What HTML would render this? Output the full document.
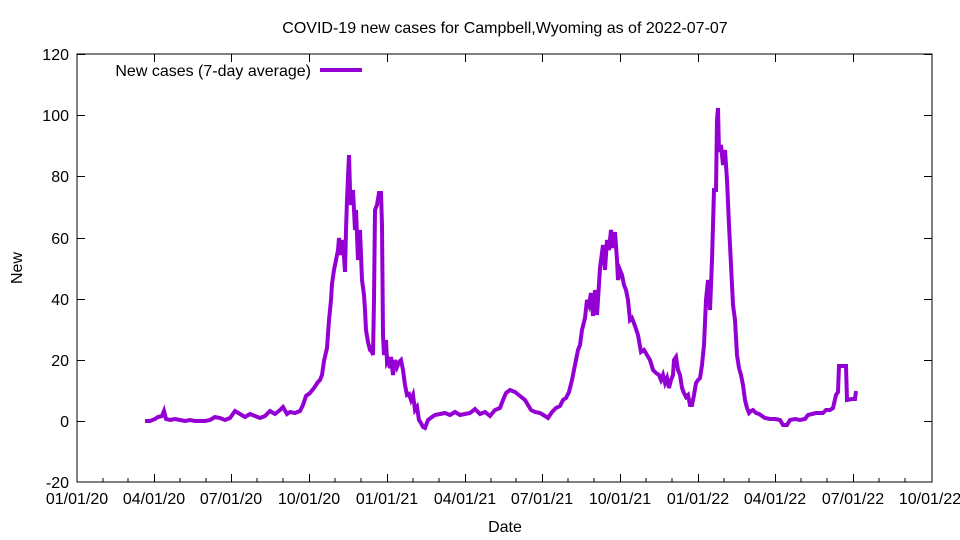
<!DOCTYPE html>
<html><head><style>body{margin:0;background:#fff}svg{display:block}text{font-family:"Liberation Sans",sans-serif;font-size:16px;fill:#000}</style></head><body>
<svg width="960" height="540" xmlns="http://www.w3.org/2000/svg">
<rect x="77" y="54" width="855" height="428" fill="none" stroke="#000" stroke-width="1"/>
<g stroke="#000" stroke-width="1">
<path d="M77 54.5h8M924 54.5h8M77 115.5h8M924 115.5h8M77 176.5h8M924 176.5h8M77 238.5h8M924 238.5h8M77 299.5h8M924 299.5h8M77 360.5h8M924 360.5h8M77 421.5h8M924 421.5h8"/>
<path d="M154.5 482v-8M231.5 482v-8M309.5 482v-8M387.5 482v-8M465.5 482v-8M542.5 482v-8M620.5 482v-8M698.5 482v-8M775.5 482v-8M853.5 482v-8M154.5 54v8M231.5 54v8M309.5 54v8M387.5 54v8M465.5 54v8M542.5 54v8M620.5 54v8M698.5 54v8M775.5 54v8M853.5 54v8"/>
<path d="M103 482v-4M128 482v-4M180 482v-4M206 482v-4M257 482v-4M283 482v-4M335 482v-4M361 482v-4M413 482v-4M439 482v-4M491 482v-4M516 482v-4M568 482v-4M594 482v-4M646 482v-4M672 482v-4M724 482v-4M749 482v-4M801 482v-4M827 482v-4M879 482v-4M905 482v-4"/>
</g>
<g text-anchor="end">
<text x="69" y="60">120</text><text x="69" y="121">100</text><text x="69" y="182">80</text><text x="69" y="244">60</text><text x="69" y="305">40</text><text x="69" y="366">20</text><text x="69" y="427">0</text><text x="69" y="488">-20</text>
</g>
<g text-anchor="middle">
<text x="77" y="504">01/01/20</text><text x="154" y="504">04/01/20</text><text x="231" y="504">07/01/20</text><text x="309" y="504">10/01/20</text><text x="387" y="504">01/01/21</text><text x="465" y="504">04/01/21</text><text x="542" y="504">07/01/21</text><text x="620" y="504">10/01/21</text><text x="698" y="504">01/01/22</text><text x="775" y="504">04/01/22</text><text x="853" y="504">07/01/22</text><text x="930" y="504">10/01/22</text>
<text x="505" y="532">Date</text>
<text x="505" y="33">COVID-19 new cases for Campbell,Wyoming as of 2022-07-07</text>
</g>
<text x="22" y="268" text-anchor="middle" transform="rotate(-90 22 268)">New</text>
<text x="311" y="76" text-anchor="end">New cases (7-day average)</text>
<line x1="320" y1="70" x2="362" y2="70" stroke="#9400d3" stroke-width="4"/>
<polyline fill="none" stroke="#9400d3" stroke-width="4" stroke-linejoin="miter" points="145,421 150,421 155,419 158,417 162,416 164,411 166,419 170,420 175,419 180,420 185,421 190,420 195,421 200,421 205,421 210,420 215,417 220,418 225,420 230,418 235,411 240,414 245,417 250,414 255,416 260,418 265,416 270,411 275,414 280,410 283,407 287,414 290,412 295,413 300,411 303,405 306,396 310,393 314,388 318,382 320,380 322,375 324,361 327,348 329,320 331,300 332,284 334,270 336,260 338,250 339,238 341,255 343,240 345,272 346,230 347,200 349,155 350,190 351,205 353,190 355,230 356,210 358,260 360,230 362,280 364,295 365,310 366,330 368,342 370,350 372,352 373,355 374,300 375,210 377,205 379,193 381,193 382,225 383,335 384,355 386,340 387,362 388,360 390,368 391,357 393,375 395,360 397,367 399,362 401,360 403,370 405,385 407,395 409,394 411,400 413,395 415,410 417,407 419,420 421,423 423,427 425,428 428,420 432,417 435,415 440,414 445,413 450,415 455,412 460,415 465,414 470,413 475,409 480,414 485,412 490,416 495,410 500,408 503,400 506,393 510,390 515,392 520,396 525,400 528,405 531,410 535,412 540,413 545,416 548,418 552,412 556,408 560,406 563,400 566,398 569,392 572,380 574,370 576,360 578,350 580,345 582,330 585,318 587,300 589,305 591,293 593,316 595,290 597,315 598,300 600,268 603,245 605,270 607,240 609,250 611,230 613,248 615,232 617,260 618,280 620,270 622,275 624,285 626,290 628,300 630,320 632,318 635,326 638,335 641,352 644,350 647,355 650,360 653,370 656,373 659,375 661,380 663,375 665,383 667,378 669,388 671,380 673,375 674,360 676,357 678,370 680,375 682,388 684,393 686,397 688,395 690,405 692,405 694,395 696,383 698,380 700,378 702,365 704,345 706,300 708,280 710,310 712,260 714,190 716,190 717,120 718,108 719,152 721,145 723,165 725,150 727,180 729,225 731,265 733,305 735,320 737,355 739,368 741,375 743,385 745,400 747,408 749,413 751,411 753,410 756,413 759,414 762,416 765,418 770,419 775,419 780,420 783,425 787,425 790,420 795,419 800,420 805,419 808,415 812,414 816,413 820,413 823,413 826,410 830,410 833,408 836,395 838,392 839,366 846,366 847,400 852,399 855,399 856,391"/>
</svg>
</body></html>
